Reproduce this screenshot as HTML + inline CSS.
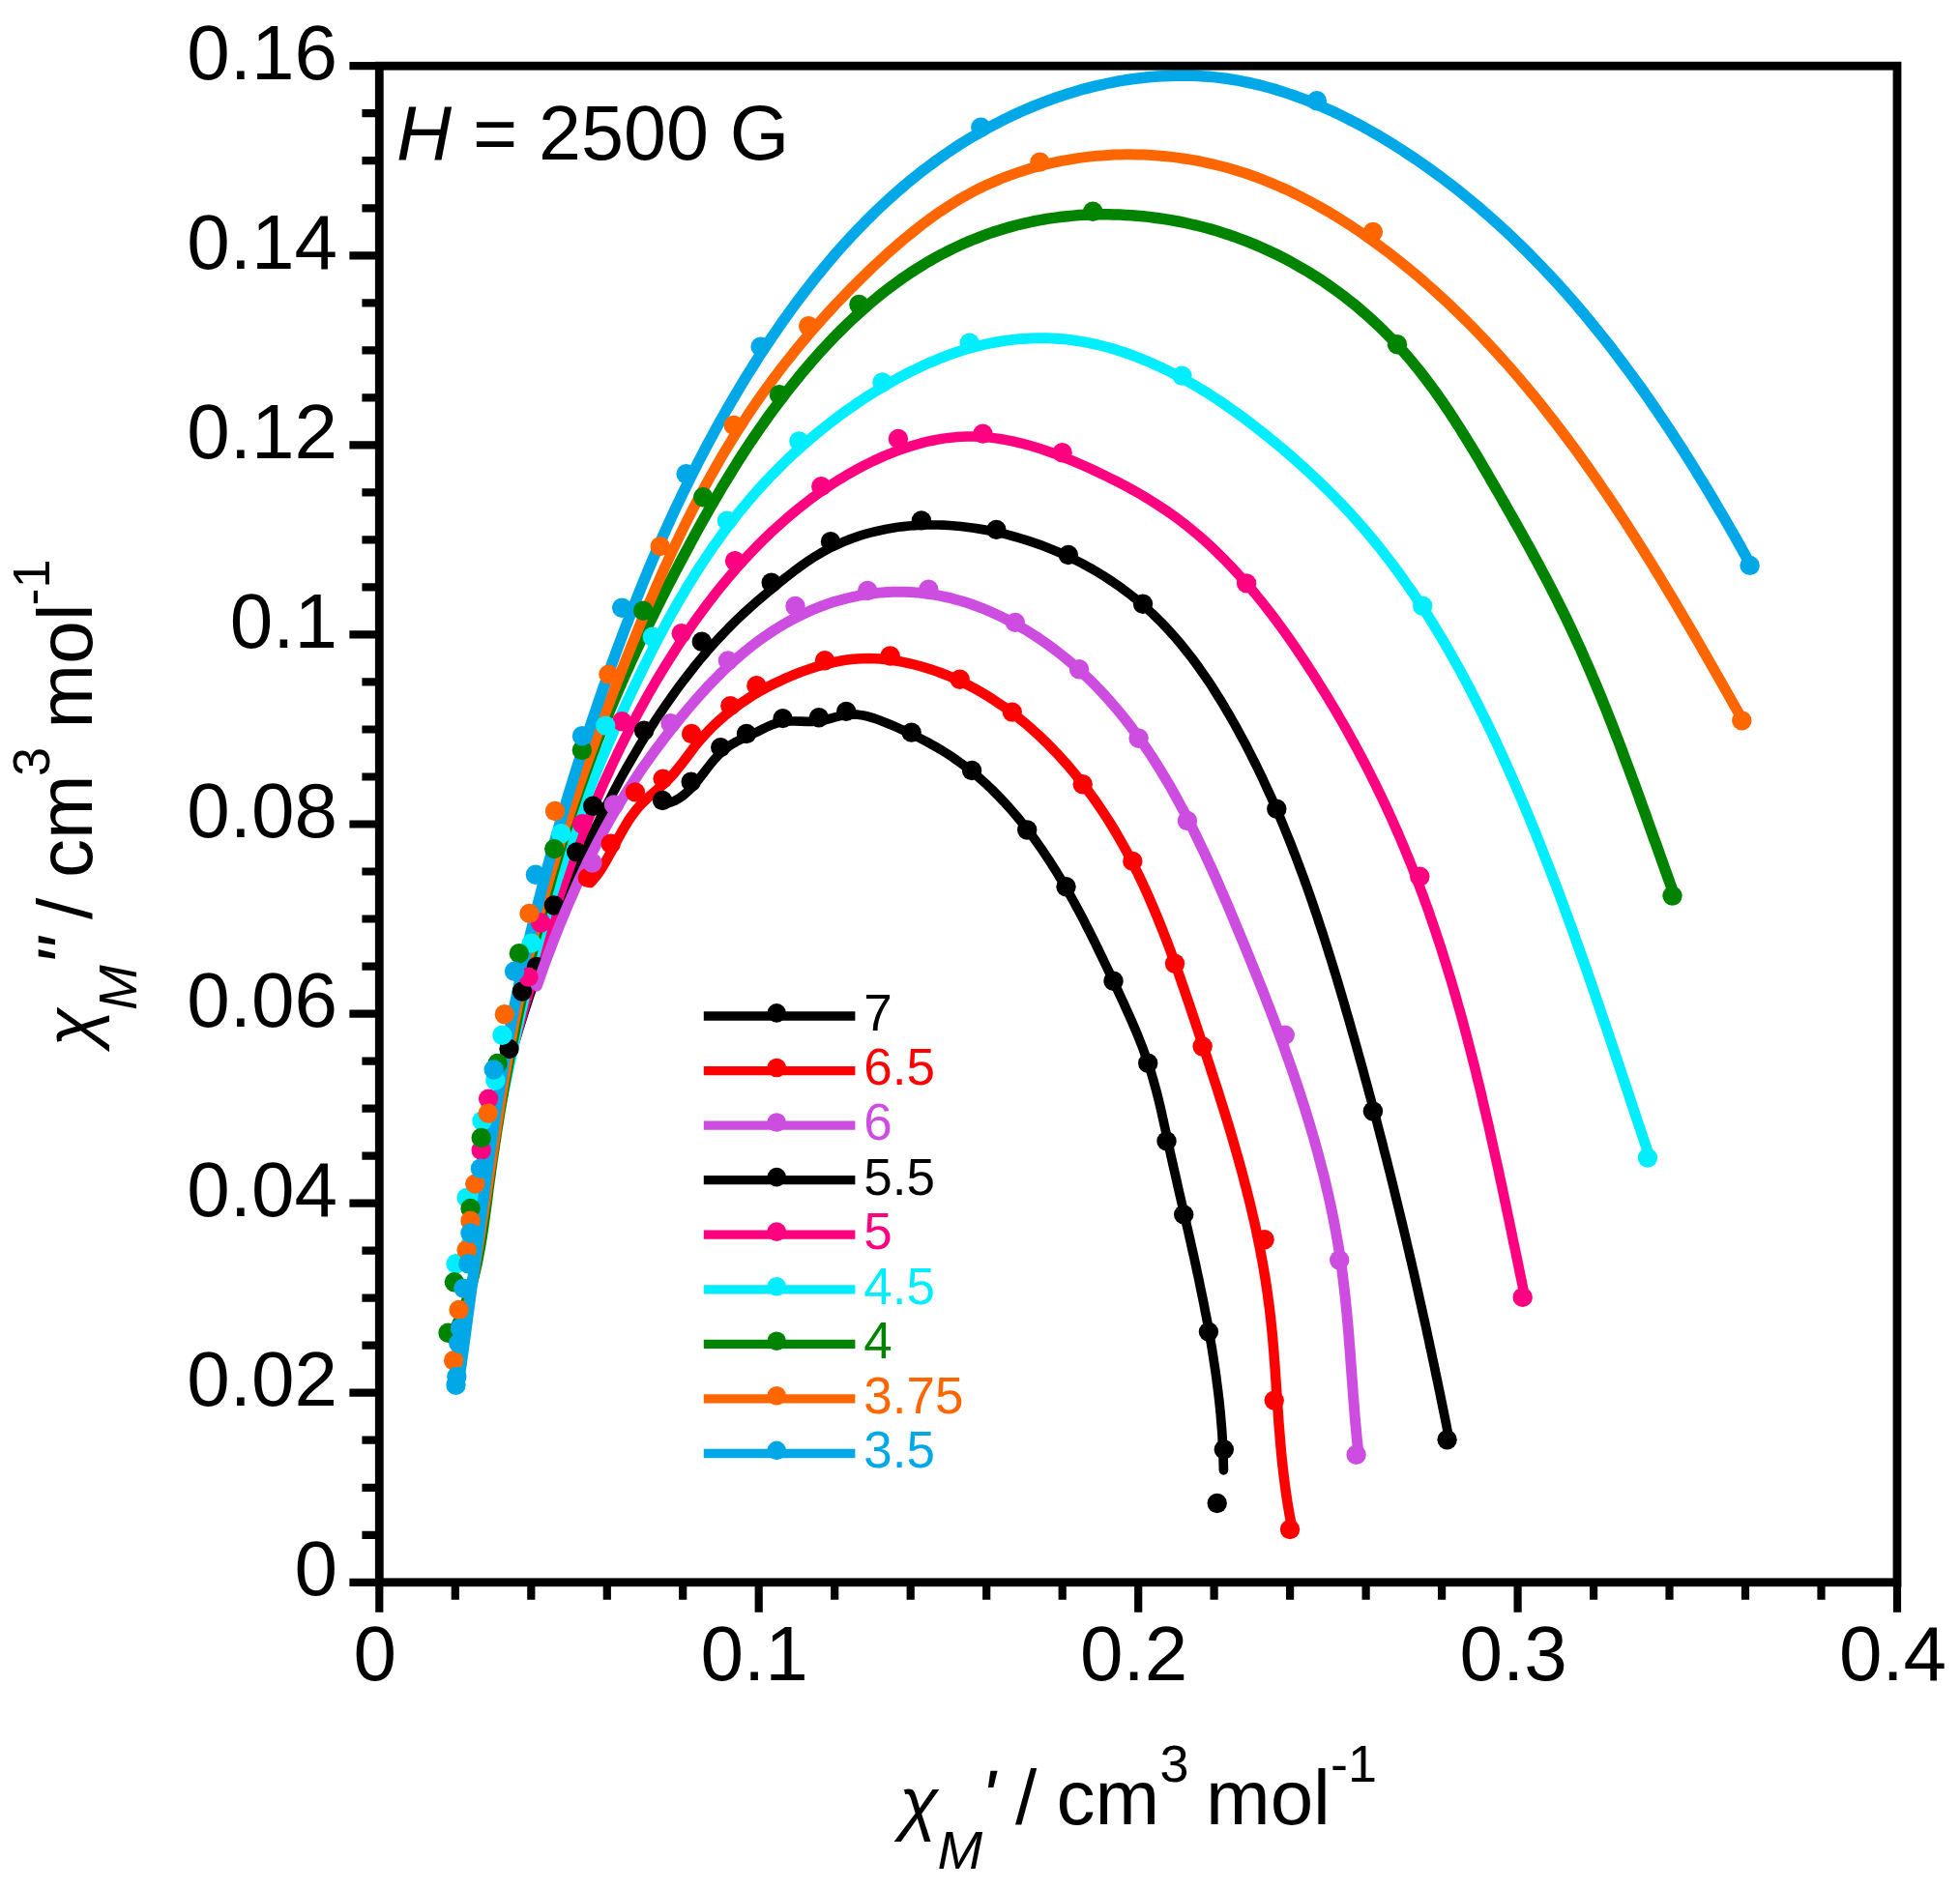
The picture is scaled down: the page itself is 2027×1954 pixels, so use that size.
<!DOCTYPE html>
<html lang="en"><head><meta charset="utf-8"><title>Cole-Cole plot, H = 2500 G</title>
<style>html,body{margin:0;padding:0;background:#fff}svg{display:block}text{font-family:"Liberation Sans",Arial,Helvetica,sans-serif;fill:#000}.it{font-style:italic}</style>
</head><body>
<svg width="2027" height="1954" viewBox="0 0 2027 1954">
<rect width="2027" height="1954" fill="#fff"/>
<g fill="none" stroke-linecap="round" stroke-linejoin="round">
<path d="M687.1 831.4L692.7 830.2L698.0 828.2L702.9 825.4L707.5 822.0L711.9 818.2L716.0 814.0L719.8 809.6L723.6 804.9L727.2 800.2L730.9 795.4L734.6 790.6L738.4 786.0L742.5 781.6L746.7 777.5L751.3 773.7L756.2 770.3L761.4 767.3L766.8 764.5L772.3 761.9L777.8 759.4L783.4 756.8L788.8 754.1L794.2 751.5L799.5 749.3L805.0 747.5L810.6 746.5L816.3 746.0L822.2 746.0L828.1 746.2L834.1 746.4L840.1 746.4L846.0 746.0L852.0 745.0L857.9 743.5L863.7 741.9L869.6 740.4L875.4 739.3L881.1 738.9L886.9 739.2L892.6 740.0L898.3 741.3L904.0 743.0L909.6 745.0L915.2 747.2L920.8 749.5L926.4 751.9L931.9 754.4L937.4 756.9L942.9 759.4L948.3 762.0L953.6 764.7L958.9 767.5L964.1 770.4L969.3 773.3L974.4 776.4L979.4 779.5L984.4 782.8L989.3 786.2L994.1 789.6L998.8 793.2L1003.5 796.9L1008.1 800.6L1012.6 804.5L1017.0 808.4L1021.4 812.4L1025.7 816.5L1029.9 820.7L1034.1 825.0L1038.2 829.3L1042.2 833.7L1046.1 838.1L1050.0 842.7L1053.9 847.2L1057.6 851.9L1061.3 856.5L1064.9 861.3L1068.5 866.0L1072.0 870.9L1075.4 875.7L1078.8 880.6L1082.1 885.6L1085.4 890.5L1088.6 895.6L1091.8 900.6L1094.9 905.7L1098.0 910.8L1101.0 915.9L1104.0 921.1L1106.9 926.3L1109.8 931.5L1112.7 936.8L1115.5 942.0L1118.3 947.3L1121.1 952.6L1123.8 958.0L1126.5 963.3L1129.2 968.7L1131.9 974.0L1134.5 979.4L1137.1 984.8L1139.7 990.2L1142.3 995.6L1144.9 1001.0L1147.5 1006.4L1150.0 1011.8L1152.5 1017.3L1155.1 1022.7L1157.6 1028.1L1160.1 1033.5L1162.6 1038.9L1165.1 1044.4L1167.5 1049.8L1169.9 1055.2L1172.3 1060.7L1174.6 1066.2L1176.9 1071.7L1179.1 1077.2L1181.3 1082.7L1183.3 1088.3L1185.3 1093.8L1187.3 1099.4L1189.1 1105.1L1190.9 1110.7L1192.5 1116.4L1194.1 1122.1L1195.7 1127.9L1197.2 1133.7L1198.6 1139.4L1200.0 1145.2L1201.3 1151.0L1202.6 1156.9L1203.9 1162.7L1205.2 1168.5L1206.4 1174.4L1207.7 1180.2L1209.0 1186.1L1210.2 1191.9L1211.5 1197.8L1212.8 1203.6L1214.1 1209.4L1215.5 1215.3L1216.8 1221.1L1218.1 1227.0L1219.4 1232.8L1220.8 1238.6L1222.1 1244.5L1223.4 1250.3L1224.8 1256.1L1226.1 1261.9L1227.4 1267.8L1228.8 1273.6L1230.1 1279.4L1231.4 1285.3L1232.7 1291.1L1234.0 1296.9L1235.3 1302.8L1236.6 1308.6L1237.8 1314.4L1239.1 1320.3L1240.3 1326.1L1241.5 1332.0L1242.7 1337.8L1243.9 1343.6L1245.1 1349.5L1246.2 1355.3L1247.4 1361.2L1248.5 1367.0L1249.5 1372.9L1250.6 1378.8L1251.6 1384.6L1252.6 1390.5L1253.6 1396.4L1254.5 1402.2L1255.4 1408.1L1256.3 1414.0L1257.2 1419.9L1258.0 1425.8L1258.7 1431.7L1259.5 1437.6L1260.2 1443.5L1260.9 1449.4L1261.5 1455.3L1262.1 1461.2L1262.6 1467.1L1263.1 1473.1L1263.6 1479.0L1264.0 1485.0L1264.3 1490.9L1264.6 1496.9L1264.9 1502.8L1265.1 1508.8L1265.3 1514.8L1265.4 1520.8" stroke="#000000" stroke-width="9.7"/>
<path d="M610.5 913.2L614.0 909.3L617.4 905.1L620.6 900.6L623.6 895.9L626.6 890.9L629.4 885.8L632.3 880.6L635.1 875.3L637.9 869.9L640.8 864.5L643.8 859.2L646.8 854.0L650.0 848.8L653.4 843.8L656.9 839.1L660.7 834.5L664.8 830.2L669.0 826.2L673.4 822.2L677.8 818.4L682.3 814.5L686.6 810.6L690.9 806.5L695.0 802.3L698.9 797.8L702.6 793.1L706.3 788.4L709.9 783.6L713.5 778.8L717.1 774.0L720.9 769.3L724.7 764.7L728.7 760.3L732.7 756.0L736.9 751.7L741.2 747.7L745.6 743.7L750.1 739.8L754.7 736.1L759.4 732.5L764.1 729.0L769.0 725.6L773.9 722.3L779.0 719.1L784.1 716.0L789.3 713.1L794.5 710.2L799.9 707.5L805.3 704.9L810.7 702.4L816.3 700.0L821.8 697.6L827.5 695.4L833.2 693.4L838.9 691.4L844.7 689.6L850.6 687.9L856.4 686.3L862.3 685.0L868.3 683.8L874.2 682.8L880.2 682.0L886.2 681.5L892.2 681.2L898.2 681.1L904.2 681.2L910.2 681.5L916.1 682.1L922.1 682.8L928.0 683.7L933.9 684.8L939.8 686.1L945.7 687.5L951.4 689.0L957.2 690.7L962.9 692.5L968.5 694.4L974.1 696.5L979.6 698.7L985.1 701.0L990.5 703.4L995.9 706.0L1001.2 708.6L1006.4 711.4L1011.6 714.2L1016.8 717.2L1021.8 720.3L1026.9 723.5L1031.8 726.8L1036.8 730.1L1041.6 733.6L1046.4 737.2L1051.2 740.8L1055.8 744.6L1060.5 748.4L1065.0 752.3L1069.5 756.3L1074.0 760.3L1078.3 764.5L1082.7 768.7L1086.9 773.0L1091.1 777.3L1095.3 781.7L1099.3 786.2L1103.4 790.7L1107.3 795.3L1111.2 800.0L1115.0 804.7L1118.8 809.4L1122.5 814.2L1126.1 819.1L1129.7 824.0L1133.2 828.9L1136.6 833.9L1140.0 838.9L1143.3 843.9L1146.6 849.0L1149.8 854.1L1152.9 859.3L1155.9 864.4L1158.9 869.6L1161.8 874.8L1164.7 880.1L1167.5 885.3L1170.3 890.6L1173.0 896.0L1175.6 901.3L1178.3 906.7L1180.8 912.0L1183.3 917.4L1185.8 922.9L1188.2 928.3L1190.6 933.8L1192.9 939.2L1195.2 944.7L1197.5 950.3L1199.7 955.8L1201.9 961.3L1204.1 966.9L1206.3 972.5L1208.4 978.0L1210.5 983.6L1212.5 989.3L1214.6 994.9L1216.6 1000.5L1218.6 1006.1L1220.6 1011.8L1222.5 1017.5L1224.5 1023.1L1226.4 1028.8L1228.4 1034.5L1230.3 1040.1L1232.2 1045.8L1234.1 1051.5L1236.0 1057.2L1237.9 1062.9L1239.8 1068.6L1241.7 1074.3L1243.6 1080.0L1245.5 1085.7L1247.4 1091.4L1249.3 1097.1L1251.2 1102.8L1253.0 1108.6L1254.9 1114.3L1256.7 1120.0L1258.6 1125.7L1260.4 1131.4L1262.2 1137.2L1264.0 1142.9L1265.8 1148.6L1267.6 1154.4L1269.3 1160.1L1271.1 1165.9L1272.8 1171.6L1274.5 1177.4L1276.2 1183.2L1277.8 1188.9L1279.5 1194.7L1281.1 1200.5L1282.7 1206.3L1284.3 1212.0L1285.8 1217.8L1287.3 1223.6L1288.9 1229.4L1290.3 1235.2L1291.8 1241.0L1293.2 1246.9L1294.6 1252.7L1295.9 1258.5L1297.3 1264.3L1298.6 1270.2L1299.8 1276.0L1301.0 1281.9L1302.2 1287.7L1303.4 1293.6L1304.5 1299.5L1305.6 1305.4L1306.6 1311.2L1307.6 1317.1L1308.6 1323.0L1309.5 1328.9L1310.4 1334.8L1311.2 1340.8L1312.0 1346.7L1312.8 1352.6L1313.5 1358.6L1314.2 1364.5L1314.8 1370.5L1315.4 1376.4L1316.0 1382.4L1316.5 1388.4L1317.0 1394.3L1317.5 1400.3L1317.9 1406.3L1318.4 1412.3L1318.8 1418.3L1319.2 1424.3L1319.6 1430.2L1320.0 1436.2L1320.4 1442.2L1320.9 1448.2L1321.3 1454.2L1321.7 1460.2L1322.1 1466.2L1322.5 1472.2L1323.0 1478.2L1323.5 1484.2L1324.0 1490.2L1324.5 1496.2L1325.0 1502.1L1325.6 1508.1L1326.2 1514.1L1326.9 1520.0L1327.6 1526.0L1328.3 1531.9L1329.1 1537.9L1329.9 1543.8L1330.8 1549.8L1331.7 1555.7L1332.7 1561.6L1333.7 1567.5L1334.9 1573.4L1336.0 1579.3L1337.3 1585.2" stroke="#ff0000" stroke-width="10.5"/>
<path d="M529.5 1088.0L531.2 1082.4L532.9 1076.7L534.7 1071.0L536.4 1065.3L538.2 1059.7L540.0 1054.0L541.8 1048.3L543.6 1042.6L545.5 1036.9L547.3 1031.3L549.2 1025.6L551.1 1019.9L553.0 1014.3L554.9 1008.6L556.9 1002.9L558.8 997.3L560.8 991.6L562.8 986.0L564.8 980.3L566.8 974.7L568.9 969.1L571.0 963.5L573.1 957.8L575.2 952.2L577.3 946.6L579.5 941.1L581.7 935.5L583.9 929.9L586.1 924.3L588.4 918.8L590.7 913.2L593.0 907.7L595.3 902.2L597.6 896.7L600.0 891.2L602.4 885.7L604.9 880.2L607.3 874.8L609.8 869.4L612.3 863.9L614.9 858.5L617.4 853.1L620.1 847.7L622.7 842.4L625.3 837.0L628.0 831.7L630.8 826.4L633.5 821.1L636.3 815.8L639.1 810.5L641.9 805.3L644.8 800.0L647.7 794.8L650.7 789.7L653.7 784.5L656.7 779.3L659.7 774.2L662.8 769.1L665.9 764.0L669.1 759.0L672.3 753.9L675.5 748.9L678.7 743.9L682.0 739.0L685.4 734.0L688.7 729.1L692.2 724.2L695.6 719.4L699.1 714.5L702.6 709.7L706.2 704.9L709.8 700.2L713.5 695.5L717.2 690.8L720.9 686.1L724.7 681.5L728.5 677.0L732.4 672.4L736.3 668.0L740.3 663.5L744.4 659.1L748.5 654.8L752.6 650.5L756.8 646.3L761.0 642.1L765.3 638.0L769.7 633.9L774.1 629.9L778.6 625.9L783.1 621.9L787.7 618.0L792.3 614.1L796.9 610.3L801.6 606.4L806.3 602.6L811.0 598.7L815.8 595.0L820.6 591.2L825.5 587.6L830.4 584.0L835.4 580.6L840.4 577.2L845.5 574.1L850.7 571.0L855.9 568.2L861.2 565.5L866.6 563.0L872.0 560.6L877.4 558.4L882.9 556.3L888.5 554.4L894.1 552.7L899.7 551.1L905.4 549.7L911.1 548.4L916.9 547.2L922.7 546.2L928.5 545.3L934.4 544.6L940.2 544.0L946.1 543.6L952.0 543.2L958.0 543.0L963.9 543.0L969.9 543.0L975.8 543.2L981.8 543.5L987.8 544.0L993.7 544.5L999.7 545.2L1005.6 546.0L1011.6 546.9L1017.5 547.9L1023.5 549.0L1029.4 550.2L1035.3 551.5L1041.1 552.9L1047.0 554.5L1052.8 556.1L1058.6 557.8L1064.3 559.7L1070.1 561.6L1075.8 563.6L1081.4 565.8L1087.0 568.0L1092.6 570.3L1098.2 572.7L1103.7 575.2L1109.1 577.8L1114.5 580.5L1119.9 583.3L1125.2 586.2L1130.4 589.1L1135.6 592.2L1140.7 595.3L1145.8 598.6L1150.8 601.9L1155.7 605.3L1160.6 608.8L1165.4 612.4L1170.1 616.0L1174.8 619.8L1179.4 623.6L1183.9 627.5L1188.3 631.5L1192.6 635.5L1196.9 639.7L1201.1 643.9L1205.2 648.2L1209.2 652.5L1213.2 656.9L1217.1 661.4L1221.0 666.0L1224.7 670.6L1228.4 675.2L1232.1 679.9L1235.6 684.7L1239.2 689.5L1242.6 694.4L1246.0 699.3L1249.4 704.2L1252.7 709.2L1255.9 714.2L1259.1 719.3L1262.3 724.4L1265.4 729.5L1268.4 734.7L1271.5 739.8L1274.4 745.0L1277.4 750.2L1280.3 755.5L1283.1 760.7L1286.0 766.0L1288.8 771.3L1291.5 776.6L1294.2 781.9L1296.9 787.2L1299.6 792.6L1302.2 798.0L1304.8 803.3L1307.3 808.7L1309.8 814.2L1312.3 819.6L1314.8 825.0L1317.2 830.5L1319.6 836.0L1322.0 841.4L1324.3 846.9L1326.6 852.5L1328.9 858.0L1331.1 863.5L1333.4 869.1L1335.6 874.6L1337.7 880.2L1339.9 885.8L1342.0 891.4L1344.1 897.0L1346.2 902.6L1348.3 908.2L1350.3 913.8L1352.3 919.5L1354.3 925.1L1356.3 930.8L1358.2 936.4L1360.1 942.1L1362.1 947.8L1363.9 953.5L1365.8 959.2L1367.7 964.9L1369.5 970.6L1371.3 976.3L1373.1 982.0L1374.9 987.7L1376.7 993.4L1378.5 999.2L1380.2 1004.9L1382.0 1010.6L1383.7 1016.4L1385.4 1022.1L1387.1 1027.9L1388.8 1033.6L1390.5 1039.4L1392.1 1045.1L1393.8 1050.9L1395.5 1056.6L1397.1 1062.4L1398.7 1068.1L1400.4 1073.9L1402.0 1079.7L1403.6 1085.4L1405.2 1091.2L1406.8 1096.9L1408.4 1102.7L1410.0 1108.5L1411.5 1114.2L1413.1 1120.0L1414.7 1125.8L1416.2 1131.5L1417.8 1137.3L1419.3 1143.1L1420.8 1148.8L1422.4 1154.6L1423.9 1160.4L1425.4 1166.2L1426.9 1171.9L1428.4 1177.7L1429.9 1183.5L1431.3 1189.3L1432.8 1195.0L1434.3 1200.8L1435.7 1206.6L1437.2 1212.4L1438.6 1218.2L1440.1 1224.0L1441.5 1229.8L1442.9 1235.6L1444.3 1241.3L1445.7 1247.1L1447.1 1252.9L1448.5 1258.7L1449.9 1264.5L1451.3 1270.3L1452.7 1276.1L1454.1 1282.0L1455.4 1287.8L1456.8 1293.6L1458.1 1299.4L1459.5 1305.2L1460.8 1311.0L1462.2 1316.8L1463.5 1322.7L1464.8 1328.5L1466.1 1334.3L1467.4 1340.1L1468.7 1346.0L1470.0 1351.8L1471.3 1357.6L1472.6 1363.5L1473.9 1369.3L1475.2 1375.2L1476.4 1381.0L1477.7 1386.8L1478.9 1392.7L1480.2 1398.5L1481.4 1404.4L1482.7 1410.3L1483.9 1416.1L1485.1 1422.0L1486.4 1427.9L1487.6 1433.7L1488.8 1439.6L1490.0 1445.5L1491.2 1451.3L1492.4 1457.2L1493.6 1463.1L1494.8 1469.0L1496.0 1474.9L1497.1 1480.8L1498.3 1486.7L1499.5 1492.6" stroke="#000000" stroke-width="9.7"/>
<path d="M502.2 1193.4L503.6 1187.6L505.1 1181.7L506.6 1175.9L508.1 1170.1L509.6 1164.3L511.1 1158.5L512.5 1152.6L514.0 1146.8L515.5 1141.0L517.0 1135.2L518.6 1129.4L520.1 1123.6L521.6 1117.8L523.1 1112.0L524.7 1106.2L526.2 1100.4L527.8 1094.7L529.3 1088.9L530.9 1083.1L532.5 1077.3L534.0 1071.5L535.6 1065.8L537.2 1060.0L538.9 1054.2L540.5 1048.5L542.1 1042.7L543.8 1037.0L545.4 1031.2L547.1 1025.5L548.8 1019.7L550.5 1014.0L552.2 1008.3L553.9 1002.6L555.7 996.8L557.4 991.1L559.2 985.4L561.0 979.7L562.8 974.0L564.6 968.3L566.5 962.6L568.3 956.9L570.2 951.2L572.1 945.5L574.0 939.8L576.0 934.1L577.9 928.5L579.9 922.8L581.9 917.1L583.9 911.5L585.9 905.8L588.0 900.2L590.0 894.5L592.1 888.9L594.3 883.3L596.4 877.6L598.6 872.0L600.8 866.4L603.0 860.8L605.2 855.3L607.5 849.7L609.8 844.1L612.1 838.6L614.4 833.0L616.8 827.5L619.1 822.0L621.6 816.4L624.0 810.9L626.5 805.5L629.0 800.0L631.5 794.5L634.0 789.1L636.6 783.7L639.2 778.2L641.8 772.8L644.5 767.4L647.2 762.1L649.9 756.7L652.6 751.4L655.4 746.1L658.2 740.8L661.0 735.5L663.9 730.2L666.8 725.0L669.7 719.7L672.7 714.5L675.7 709.3L678.7 704.2L681.8 699.0L684.9 693.9L688.0 688.8L691.2 683.7L694.4 678.6L697.6 673.6L700.8 668.6L704.1 663.6L707.5 658.6L710.8 653.6L714.3 648.7L717.7 643.8L721.2 638.9L724.7 634.1L728.2 629.3L731.8 624.5L735.5 619.8L739.1 615.0L742.8 610.3L746.6 605.7L750.4 601.1L754.2 596.5L758.1 592.0L762.1 587.4L766.0 583.0L770.0 578.6L774.1 574.2L778.2 569.8L782.4 565.5L786.6 561.3L790.8 557.1L795.2 552.9L799.5 548.8L803.9 544.8L808.4 540.8L812.9 536.8L817.4 532.9L822.1 529.1L826.7 525.3L831.4 521.6L836.2 517.9L841.0 514.3L845.9 510.8L850.8 507.3L855.8 503.9L860.8 500.6L865.9 497.3L871.1 494.2L876.3 491.1L881.5 488.1L886.8 485.2L892.1 482.3L897.5 479.6L903.0 476.9L908.5 474.4L914.0 471.9L919.6 469.6L925.2 467.4L930.9 465.2L936.6 463.3L942.3 461.4L948.1 459.7L953.8 458.1L959.6 456.7L965.5 455.5L971.3 454.4L977.1 453.4L983.0 452.7L988.9 452.1L994.7 451.7L1000.6 451.5L1006.4 451.5L1012.3 451.7L1018.2 452.1L1024.0 452.6L1029.8 453.4L1035.7 454.2L1041.5 455.3L1047.3 456.4L1053.1 457.8L1058.9 459.2L1064.7 460.8L1070.5 462.5L1076.2 464.3L1081.9 466.2L1087.7 468.3L1093.4 470.4L1099.0 472.6L1104.7 474.8L1110.3 477.2L1116.0 479.6L1121.6 482.0L1127.1 484.6L1132.7 487.1L1138.2 489.7L1143.7 492.4L1149.1 495.1L1154.6 497.8L1160.0 500.6L1165.3 503.4L1170.6 506.3L1175.9 509.3L1181.1 512.3L1186.3 515.4L1191.4 518.6L1196.5 521.8L1201.5 525.1L1206.5 528.4L1211.3 531.8L1216.2 535.3L1221.0 538.9L1225.7 542.5L1230.3 546.2L1234.9 550.0L1239.5 553.8L1244.0 557.7L1248.4 561.7L1252.8 565.7L1257.1 569.8L1261.3 574.0L1265.6 578.2L1269.7 582.4L1273.8 586.7L1277.9 591.1L1281.9 595.5L1285.9 599.9L1289.8 604.4L1293.7 609.0L1297.6 613.5L1301.4 618.2L1305.1 622.8L1308.8 627.5L1312.5 632.3L1316.2 637.0L1319.8 641.8L1323.3 646.7L1326.9 651.5L1330.4 656.4L1333.8 661.3L1337.3 666.3L1340.7 671.2L1344.1 676.2L1347.4 681.2L1350.7 686.2L1354.0 691.3L1357.3 696.3L1360.5 701.4L1363.7 706.5L1366.9 711.6L1370.1 716.7L1373.2 721.8L1376.3 726.9L1379.4 732.1L1382.5 737.3L1385.5 742.5L1388.5 747.7L1391.5 752.9L1394.4 758.1L1397.3 763.4L1400.2 768.6L1403.1 773.9L1405.9 779.2L1408.7 784.5L1411.5 789.8L1414.2 795.1L1416.9 800.4L1419.6 805.8L1422.3 811.2L1424.9 816.6L1427.5 821.9L1430.1 827.3L1432.7 832.8L1435.2 838.2L1437.7 843.6L1440.2 849.1L1442.6 854.6L1445.0 860.0L1447.4 865.5L1449.7 871.0L1452.1 876.6L1454.3 882.1L1456.6 887.6L1458.8 893.2L1461.1 898.7L1463.2 904.3L1465.4 909.9L1467.5 915.5L1469.6 921.1L1471.7 926.7L1473.7 932.3L1475.8 938.0L1477.8 943.6L1479.7 949.3L1481.7 954.9L1483.6 960.6L1485.5 966.3L1487.4 972.0L1489.3 977.7L1491.1 983.4L1492.9 989.1L1494.7 994.8L1496.5 1000.6L1498.2 1006.3L1500.0 1012.0L1501.7 1017.8L1503.4 1023.5L1505.1 1029.3L1506.7 1035.1L1508.3 1040.9L1510.0 1046.6L1511.6 1052.4L1513.2 1058.2L1514.7 1064.0L1516.3 1069.8L1517.8 1075.6L1519.3 1081.5L1520.8 1087.3L1522.3 1093.1L1523.8 1098.9L1525.3 1104.8L1526.7 1110.6L1528.1 1116.4L1529.6 1122.3L1531.0 1128.1L1532.4 1134.0L1533.7 1139.8L1535.1 1145.7L1536.5 1151.6L1537.8 1157.4L1539.2 1163.3L1540.5 1169.1L1541.8 1175.0L1543.1 1180.9L1544.4 1186.8L1545.7 1192.6L1547.0 1198.5L1548.3 1204.4L1549.6 1210.2L1550.8 1216.1L1552.1 1222.0L1553.4 1227.9L1554.6 1233.7L1555.8 1239.6L1557.1 1245.5L1558.3 1251.4L1559.5 1257.2L1560.8 1263.1L1562.0 1269.0L1563.2 1274.8L1564.4 1280.7L1565.6 1286.6L1566.9 1292.4L1568.1 1298.3L1569.3 1304.1L1570.5 1310.0L1571.7 1315.9L1572.9 1321.7L1574.1 1327.5L1575.3 1333.4L1576.5 1339.2L1577.7 1345.1" stroke="#ff0080" stroke-width="10.5"/>
<path d="M474.5 1310.4L476.4 1304.7L478.3 1299.0L480.1 1293.3L481.9 1287.5L483.6 1281.8L485.4 1276.1L487.0 1270.3L488.7 1264.5L490.3 1258.8L491.9 1253.0L493.5 1247.2L495.0 1241.4L496.5 1235.6L498.0 1229.8L499.5 1224.0L500.9 1218.2L502.3 1212.4L503.7 1206.6L505.1 1200.7L506.5 1194.9L507.8 1189.1L509.2 1183.2L510.5 1177.4L511.8 1171.5L513.1 1165.7L514.4 1159.8L515.6 1154.0L516.9 1148.1L518.2 1142.2L519.4 1136.4L520.7 1130.5L521.9 1124.6L523.2 1118.8L524.4 1112.9L525.7 1107.1L526.9 1101.2L528.2 1095.3L529.4 1089.5L530.7 1083.6L531.9 1077.8L533.2 1071.9L534.5 1066.0L535.8 1060.2L537.1 1054.3L538.4 1048.5L539.8 1042.7L541.1 1036.8L542.5 1031.0L543.9 1025.2L545.3 1019.3L546.7 1013.5L548.1 1007.7L549.6 1001.9L551.1 996.1L552.6 990.3L554.1 984.5L555.7 978.7L557.3 972.9L558.9 967.2L560.5 961.4L562.2 955.6L563.9 949.9L565.6 944.1L567.3 938.4L569.0 932.6L570.8 926.9L572.6 921.2L574.4 915.5L576.2 909.8L578.1 904.1L580.0 898.4L581.9 892.7L583.8 887.0L585.8 881.3L587.7 875.7L589.7 870.0L591.7 864.4L593.8 858.7L595.8 853.1L597.9 847.5L600.0 841.8L602.1 836.2L604.3 830.6L606.4 825.0L608.6 819.4L610.8 813.8L613.0 808.3L615.3 802.7L617.5 797.1L619.8 791.6L622.1 786.0L624.4 780.5L626.8 775.0L629.1 769.5L631.5 763.9L633.9 758.4L636.3 752.9L638.8 747.5L641.2 742.0L643.7 736.5L646.2 731.0L648.7 725.6L651.3 720.2L653.8 714.7L656.4 709.3L659.0 703.9L661.6 698.5L664.2 693.1L666.9 687.7L669.6 682.3L672.3 676.9L675.0 671.6L677.7 666.3L680.5 660.9L683.3 655.6L686.1 650.4L689.0 645.1L691.8 639.8L694.7 634.6L697.7 629.4L700.6 624.2L703.6 619.0L706.7 613.9L709.7 608.7L712.8 603.6L716.0 598.5L719.1 593.5L722.3 588.5L725.6 583.5L728.9 578.5L732.2 573.5L735.5 568.6L738.9 563.7L742.4 558.9L745.9 554.0L749.4 549.2L752.9 544.5L756.6 539.7L760.2 535.0L763.9 530.4L767.7 525.7L771.5 521.2L775.3 516.6L779.2 512.1L783.2 507.6L787.2 503.2L791.2 498.8L795.3 494.4L799.5 490.1L803.7 485.8L807.9 481.6L812.2 477.4L816.5 473.2L820.9 469.1L825.4 465.1L829.9 461.1L834.4 457.1L839.0 453.2L843.6 449.3L848.3 445.5L853.0 441.7L857.7 438.0L862.5 434.3L867.4 430.6L872.3 427.1L877.2 423.5L882.2 420.1L887.2 416.6L892.2 413.2L897.3 409.9L902.5 406.6L907.6 403.4L912.9 400.3L918.1 397.2L923.4 394.2L928.7 391.2L934.1 388.3L939.5 385.5L944.9 382.8L950.4 380.2L955.9 377.6L961.4 375.1L967.0 372.8L972.5 370.5L978.2 368.3L983.8 366.3L989.5 364.3L995.1 362.5L1000.9 360.8L1006.6 359.2L1012.4 357.7L1018.1 356.3L1023.9 355.1L1029.8 354.0L1035.6 353.0L1041.4 352.1L1047.3 351.4L1053.2 350.8L1059.0 350.4L1064.9 350.0L1070.8 349.8L1076.6 349.8L1082.5 349.8L1088.4 350.0L1094.2 350.4L1100.1 350.8L1105.9 351.4L1111.7 352.2L1117.6 353.1L1123.3 354.1L1129.1 355.3L1134.9 356.5L1140.6 358.0L1146.3 359.5L1152.0 361.1L1157.7 362.9L1163.4 364.8L1169.0 366.8L1174.6 368.9L1180.2 371.1L1185.7 373.3L1191.2 375.7L1196.7 378.2L1202.2 380.8L1207.6 383.4L1213.0 386.1L1218.3 388.9L1223.7 391.8L1228.9 394.8L1234.2 397.8L1239.4 400.9L1244.6 404.0L1249.7 407.2L1254.8 410.5L1259.9 413.9L1264.9 417.2L1270.0 420.7L1274.9 424.2L1279.9 427.7L1284.8 431.3L1289.7 434.9L1294.5 438.6L1299.3 442.3L1304.1 446.1L1308.9 449.9L1313.6 453.7L1318.3 457.5L1322.9 461.4L1327.6 465.3L1332.2 469.2L1336.7 473.2L1341.2 477.2L1345.7 481.2L1350.2 485.2L1354.6 489.3L1359.0 493.4L1363.4 497.5L1367.7 501.7L1372.0 505.9L1376.3 510.1L1380.5 514.3L1384.6 518.6L1388.8 522.9L1392.9 527.3L1396.9 531.6L1400.9 536.1L1404.9 540.5L1408.8 545.0L1412.7 549.5L1416.5 554.1L1420.3 558.6L1424.1 563.3L1427.8 567.9L1431.5 572.6L1435.2 577.3L1438.8 582.0L1442.3 586.8L1445.9 591.6L1449.4 596.4L1452.8 601.3L1456.2 606.1L1459.6 611.0L1463.0 616.0L1466.3 620.9L1469.6 625.9L1472.8 630.9L1476.1 635.9L1479.3 641.0L1482.4 646.0L1485.5 651.1L1488.6 656.3L1491.7 661.4L1494.7 666.6L1497.7 671.7L1500.7 676.9L1503.6 682.1L1506.6 687.4L1509.5 692.6L1512.3 697.9L1515.2 703.2L1518.0 708.5L1520.7 713.8L1523.5 719.1L1526.2 724.5L1528.9 729.8L1531.6 735.2L1534.3 740.6L1536.9 746.0L1539.6 751.4L1542.1 756.8L1544.7 762.3L1547.3 767.7L1549.8 773.2L1552.3 778.6L1554.8 784.1L1557.3 789.6L1559.7 795.1L1562.2 800.6L1564.6 806.1L1567.0 811.6L1569.4 817.1L1571.7 822.6L1574.1 828.1L1576.4 833.7L1578.8 839.2L1581.1 844.7L1583.3 850.3L1585.6 855.8L1587.9 861.4L1590.1 867.0L1592.3 872.5L1594.5 878.1L1596.7 883.7L1598.9 889.3L1601.1 894.9L1603.3 900.5L1605.4 906.1L1607.5 911.7L1609.7 917.3L1611.8 922.9L1613.9 928.5L1616.0 934.2L1618.0 939.8L1620.1 945.4L1622.2 951.1L1624.2 956.7L1626.3 962.3L1628.3 968.0L1630.3 973.6L1632.3 979.3L1634.3 984.9L1636.3 990.6L1638.3 996.3L1640.3 1001.9L1642.3 1007.6L1644.2 1013.2L1646.2 1018.9L1648.1 1024.6L1650.1 1030.3L1652.0 1035.9L1654.0 1041.6L1655.9 1047.3L1657.8 1053.0L1659.7 1058.6L1661.7 1064.3L1663.6 1070.0L1665.5 1075.7L1667.4 1081.4L1669.3 1087.0L1671.2 1092.7L1673.1 1098.4L1675.0 1104.1L1676.9 1109.8L1678.8 1115.5L1680.7 1121.2L1682.6 1126.8L1684.5 1132.5L1686.4 1138.2L1688.2 1143.9L1690.1 1149.6L1692.0 1155.3L1693.9 1160.9L1695.8 1166.6L1697.7 1172.3L1699.6 1178.0L1701.5 1183.6L1703.4 1189.3L1705.3 1195.0L1707.2 1200.7" stroke="#00eeff" stroke-width="11.0"/>
<path d="M466.6 1381.9L469.4 1376.5L472.2 1371.0L474.7 1365.5L477.1 1360.0L479.3 1354.4L481.4 1348.8L483.4 1343.2L485.2 1337.5L487.0 1331.8L488.6 1326.1L490.1 1320.3L491.4 1314.5L492.8 1308.7L494.0 1302.9L495.1 1297.0L496.2 1291.1L497.2 1285.2L498.2 1279.3L499.1 1273.4L500.0 1267.5L500.8 1261.6L501.6 1255.6L502.4 1249.7L503.2 1243.7L504.0 1237.8L504.7 1231.8L505.5 1225.9L506.3 1220.0L507.2 1214.0L508.0 1208.1L508.8 1202.2L509.7 1196.2L510.6 1190.3L511.5 1184.4L512.4 1178.5L513.3 1172.5L514.2 1166.6L515.2 1160.7L516.1 1154.8L517.1 1148.9L518.1 1143.0L519.1 1137.1L520.1 1131.2L521.1 1125.3L522.2 1119.4L523.3 1113.5L524.3 1107.6L525.4 1101.8L526.5 1095.9L527.6 1090.0L528.8 1084.1L529.9 1078.3L531.1 1072.4L532.3 1066.5L533.5 1060.7L534.7 1054.8L535.9 1048.9L537.1 1043.1L538.4 1037.2L539.6 1031.4L540.9 1025.5L542.2 1019.7L543.5 1013.9L544.9 1008.0L546.2 1002.2L547.6 996.4L549.0 990.5L550.4 984.7L551.8 978.9L553.2 973.1L554.6 967.3L556.1 961.5L557.6 955.7L559.1 949.9L560.6 944.1L562.1 938.3L563.7 932.5L565.3 926.7L566.9 921.0L568.5 915.2L570.1 909.4L571.7 903.7L573.4 897.9L575.1 892.2L576.8 886.5L578.5 880.7L580.3 875.0L582.0 869.3L583.8 863.6L585.6 857.9L587.4 852.2L589.3 846.5L591.2 840.8L593.1 835.1L595.0 829.4L596.9 823.8L598.8 818.1L600.8 812.5L602.8 806.8L604.8 801.2L606.9 795.6L608.9 789.9L611.0 784.3L613.1 778.7L615.3 773.1L617.4 767.5L619.6 762.0L621.8 756.4L624.0 750.8L626.3 745.3L628.6 739.7L630.9 734.2L633.2 728.7L635.5 723.2L637.9 717.7L640.3 712.2L642.7 706.7L645.1 701.2L647.6 695.7L650.0 690.3L652.5 684.8L655.0 679.3L657.5 673.9L660.1 668.5L662.6 663.1L665.2 657.6L667.8 652.2L670.4 646.9L673.0 641.5L675.7 636.1L678.3 630.7L681.0 625.4L683.7 620.0L686.4 614.7L689.1 609.3L691.8 604.0L694.6 598.7L697.3 593.4L700.1 588.1L702.9 582.8L705.7 577.5L708.5 572.2L711.3 567.0L714.1 561.7L717.0 556.5L719.8 551.2L722.7 546.0L725.6 540.8L728.5 535.6L731.5 530.4L734.4 525.2L737.4 520.1L740.4 514.9L743.4 509.8L746.4 504.6L749.5 499.5L752.6 494.4L755.7 489.4L758.9 484.3L762.0 479.2L765.2 474.2L768.4 469.2L771.7 464.2L775.0 459.2L778.3 454.3L781.7 449.3L785.0 444.4L788.5 439.5L791.9 434.6L795.4 429.7L798.9 424.9L802.5 420.1L806.1 415.3L809.7 410.5L813.4 405.7L817.1 401.0L820.9 396.3L824.7 391.6L828.5 386.9L832.4 382.3L836.3 377.7L840.3 373.1L844.3 368.5L848.3 364.0L852.4 359.6L856.6 355.1L860.7 350.8L864.9 346.4L869.2 342.1L873.5 337.9L877.9 333.7L882.2 329.5L886.7 325.4L891.2 321.4L895.7 317.4L900.2 313.5L904.8 309.6L909.5 305.8L914.2 302.1L918.9 298.4L923.7 294.8L928.5 291.3L933.4 287.8L938.3 284.5L943.3 281.1L948.3 277.9L953.3 274.8L958.4 271.7L963.5 268.7L968.7 265.8L973.9 263.0L979.2 260.3L984.5 257.6L989.9 255.1L995.2 252.6L1000.7 250.2L1006.1 248.0L1011.6 245.8L1017.2 243.7L1022.7 241.6L1028.3 239.7L1034.0 237.9L1039.6 236.2L1045.3 234.6L1051.1 233.0L1056.9 231.6L1062.6 230.3L1068.5 229.0L1074.3 227.9L1080.2 226.8L1086.1 225.9L1092.0 225.1L1098.0 224.3L1103.9 223.7L1109.9 223.1L1115.9 222.6L1121.9 222.3L1127.9 222.0L1133.9 221.8L1140.0 221.8L1146.0 221.8L1152.0 221.9L1158.1 222.1L1164.1 222.4L1170.1 222.7L1176.2 223.2L1182.2 223.8L1188.2 224.4L1194.2 225.2L1200.2 226.0L1206.2 226.9L1212.1 227.9L1218.1 229.0L1224.0 230.2L1229.9 231.5L1235.8 232.8L1241.7 234.3L1247.5 235.8L1253.3 237.4L1259.1 239.1L1264.8 240.9L1270.5 242.8L1276.2 244.7L1281.9 246.8L1287.5 248.9L1293.0 251.1L1298.6 253.4L1304.0 255.7L1309.5 258.2L1314.9 260.7L1320.3 263.3L1325.6 265.9L1330.9 268.7L1336.1 271.5L1341.3 274.4L1346.5 277.4L1351.6 280.4L1356.7 283.5L1361.7 286.7L1366.7 289.9L1371.6 293.3L1376.5 296.7L1381.3 300.1L1386.1 303.6L1390.9 307.2L1395.6 310.9L1400.2 314.6L1404.8 318.4L1409.3 322.3L1413.8 326.2L1418.3 330.2L1422.6 334.2L1427.0 338.3L1431.2 342.4L1435.4 346.7L1439.6 350.9L1443.7 355.3L1447.7 359.7L1451.7 364.1L1455.7 368.6L1459.5 373.2L1463.3 377.8L1467.1 382.4L1470.8 387.1L1474.5 391.9L1478.1 396.7L1481.7 401.5L1485.2 406.4L1488.6 411.3L1492.1 416.2L1495.5 421.2L1498.8 426.2L1502.2 431.2L1505.4 436.3L1508.7 441.3L1511.9 446.5L1515.1 451.6L1518.3 456.7L1521.4 461.9L1524.6 467.0L1527.7 472.2L1530.8 477.4L1533.8 482.6L1536.9 487.8L1539.9 493.0L1542.9 498.3L1546.0 503.5L1549.0 508.7L1552.0 513.9L1555.0 519.1L1557.9 524.3L1560.9 529.5L1563.9 534.7L1566.8 539.9L1569.8 545.1L1572.7 550.3L1575.6 555.5L1578.5 560.7L1581.4 565.9L1584.2 571.1L1587.1 576.4L1589.9 581.6L1592.7 586.8L1595.5 592.1L1598.3 597.3L1601.1 602.6L1603.8 607.9L1606.5 613.2L1609.2 618.5L1611.9 623.8L1614.5 629.1L1617.2 634.4L1619.8 639.8L1622.4 645.2L1624.9 650.5L1627.4 655.9L1629.9 661.4L1632.4 666.8L1634.9 672.2L1637.3 677.7L1639.7 683.2L1642.1 688.6L1644.5 694.1L1646.8 699.6L1649.2 705.2L1651.5 710.7L1653.8 716.2L1656.1 721.8L1658.3 727.3L1660.6 732.9L1662.8 738.5L1665.0 744.1L1667.2 749.7L1669.4 755.3L1671.5 760.9L1673.7 766.5L1675.8 772.1L1677.9 777.7L1680.0 783.4L1682.1 789.0L1684.2 794.6L1686.3 800.3L1688.4 805.9L1690.5 811.5L1692.5 817.2L1694.6 822.8L1696.6 828.5L1698.6 834.1L1700.7 839.8L1702.7 845.4L1704.7 851.1L1706.7 856.7L1708.7 862.3L1710.7 868.0L1712.8 873.6L1714.8 879.2L1716.8 884.9L1718.8 890.5L1720.8 896.1L1722.8 901.7L1724.8 907.3L1726.8 912.9L1728.8 918.5L1730.8 924.1L1732.8 929.6" stroke="#008400" stroke-width="11.5"/>
<path d="M472.3 1410.5L473.5 1404.6L474.8 1398.8L476.0 1392.9L477.2 1387.1L478.4 1381.2L479.5 1375.3L480.6 1369.5L481.8 1363.6L482.9 1357.7L484.0 1351.8L485.0 1345.9L486.1 1340.0L487.1 1334.1L488.1 1328.2L489.2 1322.3L490.2 1316.4L491.2 1310.5L492.1 1304.6L493.1 1298.7L494.1 1292.7L495.0 1286.8L496.0 1280.9L496.9 1275.0L497.8 1269.0L498.7 1263.1L499.7 1257.2L500.6 1251.2L501.5 1245.3L502.4 1239.4L503.3 1233.4L504.2 1227.5L505.1 1221.5L506.0 1215.6L506.9 1209.7L507.8 1203.7L508.7 1197.8L509.6 1191.8L510.5 1185.9L511.4 1180.0L512.3 1174.0L513.2 1168.1L514.1 1162.1L515.1 1156.2L516.0 1150.3L516.9 1144.3L517.9 1138.4L518.8 1132.5L519.8 1126.6L520.8 1120.6L521.8 1114.7L522.8 1108.8L523.8 1102.9L524.8 1097.0L525.8 1091.1L526.9 1085.2L527.9 1079.2L529.0 1073.4L530.1 1067.5L531.2 1061.6L532.3 1055.7L533.5 1049.8L534.7 1043.9L535.8 1038.1L537.0 1032.2L538.3 1026.3L539.5 1020.5L540.8 1014.6L542.1 1008.8L543.4 1002.9L544.7 997.1L546.1 991.3L547.5 985.5L548.9 979.6L550.3 973.8L551.8 968.0L553.3 962.2L554.8 956.4L556.3 950.7L557.8 944.9L559.4 939.1L561.0 933.3L562.6 927.6L564.2 921.8L565.9 916.1L567.5 910.3L569.2 904.6L570.9 898.8L572.7 893.1L574.4 887.4L576.2 881.6L577.9 875.9L579.7 870.2L581.6 864.5L583.4 858.8L585.2 853.1L587.1 847.4L589.0 841.7L590.9 836.0L592.8 830.3L594.7 824.7L596.7 819.0L598.6 813.3L600.6 807.6L602.6 802.0L604.5 796.3L606.6 790.7L608.6 785.0L610.6 779.4L612.7 773.7L614.7 768.1L616.8 762.4L618.9 756.8L620.9 751.2L623.0 745.5L625.1 739.9L627.3 734.3L629.4 728.7L631.5 723.0L633.7 717.4L635.8 711.8L638.0 706.2L640.2 700.6L642.3 695.0L644.5 689.4L646.7 683.8L648.9 678.2L651.2 672.6L653.4 667.0L655.7 661.5L657.9 655.9L660.2 650.3L662.5 644.8L664.8 639.2L667.1 633.7L669.5 628.1L671.8 622.6L674.2 617.1L676.6 611.6L679.0 606.1L681.4 600.6L683.8 595.1L686.3 589.6L688.8 584.2L691.3 578.7L693.8 573.3L696.3 567.9L698.9 562.5L701.5 557.1L704.1 551.7L706.7 546.3L709.4 540.9L712.1 535.6L714.8 530.3L717.5 524.9L720.3 519.6L723.0 514.4L725.8 509.1L728.7 503.8L731.5 498.6L734.4 493.4L737.4 488.2L740.3 483.0L743.3 477.8L746.3 472.6L749.3 467.5L752.4 462.4L755.5 457.3L758.6 452.2L761.8 447.2L765.0 442.1L768.3 437.1L771.5 432.1L774.8 427.1L778.2 422.2L781.5 417.2L785.0 412.3L788.4 407.4L791.9 402.6L795.4 397.7L799.0 392.9L802.6 388.1L806.2 383.3L809.8 378.6L813.5 373.9L817.3 369.2L821.0 364.5L824.8 359.8L828.6 355.2L832.5 350.6L836.4 346.0L840.3 341.4L844.3 336.9L848.3 332.4L852.3 327.9L856.3 323.5L860.4 319.0L864.5 314.6L868.7 310.2L872.9 305.9L877.1 301.5L881.3 297.2L885.6 293.0L889.9 288.7L894.2 284.5L898.5 280.3L902.9 276.1L907.3 272.0L911.8 267.8L916.2 263.7L920.7 259.7L925.3 255.7L929.8 251.7L934.4 247.8L939.1 244.0L943.7 240.2L948.5 236.4L953.2 232.7L958.0 229.1L962.8 225.5L967.7 222.1L972.6 218.6L977.6 215.3L982.6 212.1L987.7 208.9L992.8 205.8L998.0 202.9L1003.2 200.0L1008.4 197.2L1013.7 194.5L1019.1 191.9L1024.5 189.5L1030.0 187.1L1035.5 184.8L1041.0 182.6L1046.6 180.6L1052.2 178.6L1057.9 176.7L1063.6 174.9L1069.3 173.3L1075.0 171.7L1080.8 170.2L1086.7 168.8L1092.5 167.5L1098.4 166.4L1104.3 165.3L1110.2 164.3L1116.1 163.4L1122.0 162.6L1128.0 161.9L1134.0 161.3L1140.0 160.9L1146.0 160.5L1152.0 160.1L1158.0 159.9L1164.0 159.8L1170.0 159.8L1176.0 159.9L1182.0 160.1L1188.0 160.3L1194.1 160.7L1200.1 161.2L1206.0 161.7L1212.0 162.4L1218.0 163.1L1224.0 164.0L1229.9 164.9L1235.8 165.9L1241.7 167.0L1247.6 168.3L1253.4 169.6L1259.3 171.0L1265.1 172.5L1270.9 174.0L1276.6 175.7L1282.3 177.5L1288.0 179.3L1293.7 181.3L1299.3 183.3L1304.9 185.4L1310.4 187.6L1316.0 189.9L1321.5 192.2L1326.9 194.6L1332.4 197.1L1337.8 199.7L1343.2 202.4L1348.5 205.1L1353.8 207.8L1359.1 210.7L1364.3 213.6L1369.6 216.6L1374.7 219.6L1379.9 222.7L1385.0 225.9L1390.1 229.1L1395.2 232.3L1400.2 235.7L1405.2 239.0L1410.2 242.4L1415.1 245.9L1420.0 249.4L1424.9 253.0L1429.7 256.6L1434.5 260.2L1439.3 263.9L1444.0 267.6L1448.7 271.3L1453.4 275.1L1458.1 278.9L1462.7 282.8L1467.3 286.6L1471.8 290.5L1476.3 294.5L1480.8 298.4L1485.3 302.4L1489.7 306.5L1494.1 310.5L1498.5 314.6L1502.8 318.7L1507.1 322.9L1511.4 327.0L1515.7 331.2L1519.9 335.5L1524.1 339.7L1528.3 344.0L1532.4 348.3L1536.5 352.6L1540.6 357.0L1544.7 361.4L1548.7 365.8L1552.7 370.2L1556.7 374.7L1560.7 379.1L1564.6 383.6L1568.5 388.2L1572.4 392.7L1576.2 397.3L1580.1 401.9L1583.9 406.5L1587.7 411.1L1591.5 415.7L1595.2 420.4L1598.9 425.1L1602.6 429.8L1606.3 434.5L1610.0 439.3L1613.6 444.1L1617.2 448.8L1620.8 453.6L1624.4 458.5L1628.0 463.3L1631.5 468.1L1635.0 473.0L1638.5 477.9L1642.0 482.8L1645.4 487.7L1648.9 492.6L1652.3 497.5L1655.7 502.5L1659.1 507.5L1662.5 512.4L1665.8 517.4L1669.2 522.4L1672.5 527.4L1675.8 532.5L1679.1 537.5L1682.4 542.5L1685.6 547.6L1688.9 552.7L1692.1 557.7L1695.3 562.8L1698.5 567.9L1701.7 573.0L1704.9 578.1L1708.1 583.2L1711.2 588.4L1714.4 593.5L1717.5 598.6L1720.6 603.8L1723.7 608.9L1726.8 614.1L1729.9 619.2L1733.0 624.4L1736.0 629.6L1739.1 634.7L1742.1 639.9L1745.2 645.1L1748.2 650.3L1751.2 655.4L1754.2 660.6L1757.2 665.8L1760.2 671.0L1763.2 676.2L1766.2 681.4L1769.1 686.6L1772.1 691.7L1775.0 696.9L1778.0 702.1L1780.9 707.3L1783.9 712.5L1786.8 717.6L1789.7 722.8L1792.6 728.0L1795.6 733.2L1798.5 738.3L1801.4 743.5L1804.3 748.6" stroke="#ff6600" stroke-width="11.0"/>
<path d="M473.5 1435.8L474.3 1429.9L475.2 1424.0L476.0 1418.0L476.9 1412.1L477.7 1406.2L478.6 1400.2L479.4 1394.3L480.2 1388.3L481.0 1382.4L481.8 1376.5L482.6 1370.5L483.4 1364.6L484.2 1358.6L485.0 1352.7L485.8 1346.7L486.6 1340.8L487.4 1334.9L488.2 1328.9L489.0 1323.0L489.7 1317.0L490.5 1311.1L491.3 1305.1L492.1 1299.2L492.9 1293.2L493.6 1287.3L494.4 1281.3L495.2 1275.4L496.0 1269.4L496.8 1263.5L497.6 1257.5L498.4 1251.6L499.2 1245.6L500.0 1239.7L500.8 1233.7L501.6 1227.8L502.4 1221.9L503.2 1215.9L504.0 1210.0L504.9 1204.0L505.7 1198.1L506.6 1192.2L507.4 1186.2L508.3 1180.3L509.2 1174.4L510.1 1168.4L511.0 1162.5L511.9 1156.6L512.8 1150.6L513.7 1144.7L514.6 1138.8L515.6 1132.9L516.5 1127.0L517.5 1121.0L518.5 1115.1L519.5 1109.2L520.5 1103.3L521.5 1097.4L522.6 1091.5L523.6 1085.6L524.7 1079.7L525.8 1073.8L526.9 1067.9L528.0 1062.0L529.1 1056.1L530.3 1050.2L531.4 1044.3L532.6 1038.5L533.8 1032.6L535.0 1026.7L536.3 1020.8L537.5 1015.0L538.8 1009.1L540.1 1003.3L541.4 997.4L542.7 991.5L544.0 985.7L545.4 979.9L546.8 974.0L548.1 968.2L549.5 962.3L551.0 956.5L552.4 950.7L553.8 944.8L555.3 939.0L556.8 933.2L558.3 927.4L559.8 921.6L561.3 915.8L562.8 910.0L564.4 904.2L565.9 898.4L567.5 892.6L569.1 886.8L570.7 881.0L572.3 875.2L574.0 869.4L575.6 863.7L577.3 857.9L579.0 852.1L580.7 846.4L582.4 840.6L584.1 834.8L585.8 829.1L587.5 823.3L589.3 817.6L591.1 811.9L592.8 806.1L594.6 800.4L596.4 794.7L598.2 788.9L600.1 783.2L601.9 777.5L603.7 771.8L605.6 766.1L607.5 760.4L609.4 754.7L611.2 749.0L613.1 743.3L615.1 737.6L617.0 732.0L618.9 726.3L620.9 720.6L622.8 714.9L624.8 709.3L626.8 703.6L628.8 698.0L630.8 692.3L632.8 686.7L634.9 681.1L636.9 675.4L639.0 669.8L641.1 664.2L643.2 658.6L645.3 653.0L647.4 647.4L649.6 641.8L651.7 636.2L653.9 630.7L656.1 625.1L658.3 619.5L660.5 614.0L662.8 608.4L665.0 602.9L667.3 597.4L669.6 591.8L671.9 586.3L674.2 580.8L676.6 575.3L678.9 569.8L681.3 564.3L683.7 558.9L686.1 553.4L688.6 548.0L691.0 542.5L693.5 537.1L696.0 531.6L698.5 526.2L701.1 520.8L703.7 515.4L706.2 510.0L708.9 504.7L711.5 499.3L714.1 493.9L716.8 488.6L719.5 483.3L722.2 477.9L725.0 472.6L727.7 467.3L730.5 462.0L733.3 456.7L736.2 451.5L739.0 446.2L741.9 441.0L744.8 435.7L747.8 430.5L750.7 425.3L753.7 420.1L756.7 414.9L759.8 409.7L762.8 404.6L765.9 399.4L769.0 394.3L772.2 389.1L775.4 384.0L778.6 378.9L781.8 373.9L785.0 368.8L788.3 363.7L791.6 358.7L795.0 353.7L798.4 348.6L801.8 343.7L805.2 338.7L808.6 333.7L812.1 328.8L815.7 323.9L819.2 319.0L822.8 314.1L826.4 309.3L830.0 304.5L833.7 299.7L837.4 294.9L841.2 290.1L845.0 285.4L848.8 280.8L852.6 276.1L856.5 271.5L860.4 266.9L864.3 262.3L868.3 257.8L872.3 253.3L876.4 248.8L880.4 244.4L884.6 240.0L888.7 235.7L892.9 231.4L897.1 227.1L901.4 222.9L905.7 218.7L910.0 214.6L914.4 210.5L918.8 206.4L923.3 202.4L927.7 198.4L932.3 194.5L936.8 190.6L941.4 186.8L946.1 183.0L950.8 179.3L955.5 175.6L960.3 172.0L965.1 168.5L969.9 164.9L974.8 161.5L979.7 158.1L984.7 154.7L989.7 151.4L994.7 148.2L999.8 145.0L1005.0 141.9L1010.2 138.9L1015.4 135.9L1020.6 132.9L1025.9 130.1L1031.3 127.3L1036.7 124.5L1042.1 121.9L1047.5 119.3L1053.0 116.7L1058.5 114.3L1064.1 111.9L1069.6 109.6L1075.2 107.3L1080.9 105.2L1086.5 103.1L1092.2 101.0L1097.9 99.1L1103.6 97.2L1109.4 95.5L1115.2 93.8L1120.9 92.1L1126.7 90.6L1132.6 89.1L1138.4 87.8L1144.3 86.5L1150.1 85.3L1156.0 84.2L1161.9 83.2L1167.8 82.3L1173.7 81.4L1179.6 80.7L1185.5 80.0L1191.4 79.5L1197.3 79.0L1203.3 78.7L1209.2 78.4L1215.1 78.2L1221.0 78.2L1227.0 78.2L1232.9 78.3L1238.8 78.6L1244.7 78.9L1250.6 79.3L1256.5 79.9L1262.3 80.6L1268.2 81.3L1274.1 82.2L1279.9 83.2L1285.7 84.3L1291.5 85.5L1297.3 86.8L1303.1 88.2L1308.9 89.7L1314.6 91.3L1320.3 92.9L1326.0 94.7L1331.7 96.6L1337.4 98.5L1343.0 100.6L1348.7 102.7L1354.3 104.9L1359.9 107.1L1365.4 109.5L1370.9 111.9L1376.5 114.4L1381.9 117.0L1387.4 119.6L1392.8 122.3L1398.2 125.1L1403.6 127.9L1409.0 130.8L1414.3 133.7L1419.6 136.7L1424.9 139.8L1430.1 142.9L1435.3 146.0L1440.5 149.2L1445.6 152.5L1450.7 155.7L1455.8 159.1L1460.8 162.4L1465.8 165.8L1470.8 169.2L1475.8 172.7L1480.7 176.2L1485.5 179.8L1490.4 183.3L1495.2 187.0L1500.0 190.6L1504.7 194.3L1509.4 198.0L1514.1 201.8L1518.8 205.6L1523.4 209.4L1528.0 213.2L1532.5 217.1L1537.1 221.1L1541.6 225.0L1546.0 229.0L1550.5 233.0L1554.9 237.1L1559.3 241.1L1563.6 245.2L1567.9 249.4L1572.2 253.5L1576.5 257.7L1580.7 261.9L1584.9 266.2L1589.1 270.5L1593.3 274.8L1597.4 279.1L1601.5 283.5L1605.6 287.8L1609.6 292.2L1613.7 296.7L1617.7 301.1L1621.6 305.6L1625.6 310.1L1629.5 314.6L1633.4 319.2L1637.3 323.8L1641.1 328.4L1644.9 333.0L1648.7 337.6L1652.5 342.3L1656.2 347.0L1660.0 351.7L1663.7 356.4L1667.3 361.1L1671.0 365.9L1674.6 370.7L1678.2 375.4L1681.8 380.3L1685.4 385.1L1688.9 389.9L1692.5 394.8L1696.0 399.7L1699.5 404.6L1702.9 409.5L1706.4 414.4L1709.8 419.4L1713.2 424.3L1716.5 429.3L1719.9 434.3L1723.2 439.3L1726.6 444.3L1729.9 449.3L1733.1 454.3L1736.4 459.4L1739.7 464.4L1742.9 469.5L1746.1 474.6L1749.3 479.7L1752.5 484.8L1755.6 489.9L1758.7 495.0L1761.9 500.1L1765.0 505.3L1768.1 510.4L1771.1 515.5L1774.2 520.7L1777.2 525.9L1780.3 531.0L1783.3 536.2L1786.3 541.4L1789.2 546.5L1792.2 551.7L1795.2 556.9L1798.1 562.1L1801.0 567.3L1803.9 572.5L1806.8 577.7L1809.7 582.9L1812.6 588.1" stroke="#00a8e8" stroke-width="11.5"/>
</g>
<g fill="#000000">
<circle cx="526.5" cy="1085.0" r="10.2"/><circle cx="540.0" cy="1025.5" r="10.2"/><circle cx="554.9" cy="1000.0" r="10.2"/><circle cx="572.9" cy="936.5" r="10.2"/><circle cx="596.2" cy="881.4" r="10.2"/><circle cx="613.2" cy="833.8" r="10.2"/><circle cx="666.1" cy="755.7" r="10.2"/><circle cx="725.8" cy="663.8" r="10.2"/><circle cx="797.7" cy="602.7" r="10.2"/><circle cx="859.0" cy="560.2" r="10.2"/><circle cx="952.9" cy="538.4" r="10.2"/><circle cx="1030.4" cy="547.9" r="10.2"/><circle cx="1104.8" cy="574.0" r="10.2"/><circle cx="1182.0" cy="624.7" r="10.2"/><circle cx="1320.3" cy="836.7" r="10.2"/><circle cx="1419.9" cy="1149.5" r="10.2"/><circle cx="1496.6" cy="1489.3" r="10.2"/>
</g>
<g fill="none" stroke-linecap="round" stroke-linejoin="round">
<path d="M555.2 1020.1L557.2 1014.4L559.2 1008.8L561.2 1003.2L563.2 997.5L565.3 991.9L567.4 986.3L569.5 980.7L571.7 975.1L573.8 969.5L576.0 963.9L578.2 958.3L580.5 952.8L582.8 947.2L585.1 941.7L587.4 936.2L589.8 930.7L592.2 925.2L594.6 919.7L597.0 914.2L599.5 908.8L602.1 903.4L604.6 898.0L607.2 892.6L609.9 887.2L612.5 881.9L615.3 876.5L618.0 871.2L620.8 866.0L623.6 860.7L626.5 855.5L629.4 850.3L632.4 845.1L635.4 839.9L638.5 834.8L641.6 829.7L644.7 824.6L647.9 819.6L651.1 814.6L654.4 809.6L657.7 804.6L661.0 799.6L664.4 794.7L667.8 789.8L671.3 784.9L674.8 780.1L678.3 775.3L681.9 770.4L685.5 765.7L689.2 760.9L692.9 756.1L696.6 751.4L700.4 746.7L704.2 742.0L708.0 737.4L711.9 732.8L715.8 728.2L719.8 723.6L723.8 719.1L727.8 714.7L731.9 710.2L736.1 705.9L740.3 701.6L744.5 697.3L748.8 693.1L753.2 689.0L757.6 684.9L762.1 681.0L766.6 677.1L771.2 673.2L775.9 669.5L780.6 665.8L785.4 662.2L790.3 658.8L795.2 655.4L800.2 652.1L805.3 648.9L810.4 645.8L815.6 642.9L820.9 640.0L826.2 637.3L831.6 634.7L837.0 632.2L842.5 629.8L848.1 627.6L853.7 625.5L859.3 623.6L865.1 621.8L870.8 620.2L876.6 618.7L882.4 617.3L888.3 616.1L894.2 615.1L900.1 614.2L906.0 613.5L912.0 612.9L917.9 612.5L923.9 612.2L929.9 612.2L935.8 612.2L941.8 612.5L947.7 612.9L953.7 613.5L959.6 614.2L965.5 615.1L971.3 616.1L977.2 617.3L983.0 618.7L988.7 620.2L994.5 621.8L1000.2 623.6L1005.9 625.5L1011.5 627.6L1017.1 629.7L1022.6 632.0L1028.1 634.5L1033.6 637.0L1039.0 639.6L1044.3 642.4L1049.6 645.2L1054.9 648.2L1060.1 651.2L1065.2 654.4L1070.3 657.6L1075.3 660.9L1080.2 664.3L1085.1 667.8L1090.0 671.4L1094.7 675.0L1099.4 678.7L1104.1 682.5L1108.6 686.4L1113.1 690.3L1117.6 694.3L1122.0 698.4L1126.3 702.5L1130.5 706.7L1134.7 711.0L1138.8 715.3L1142.9 719.6L1146.9 724.1L1150.8 728.6L1154.7 733.1L1158.5 737.7L1162.2 742.3L1165.9 747.0L1169.6 751.7L1173.1 756.5L1176.6 761.3L1180.1 766.2L1183.5 771.1L1186.9 776.1L1190.2 781.0L1193.4 786.0L1196.6 791.1L1199.8 796.2L1202.9 801.3L1206.0 806.4L1209.0 811.6L1212.0 816.8L1214.9 822.0L1217.8 827.3L1220.6 832.5L1223.5 837.8L1226.2 843.1L1229.0 848.4L1231.7 853.8L1234.4 859.1L1237.0 864.5L1239.6 869.9L1242.2 875.3L1244.8 880.7L1247.3 886.1L1249.8 891.5L1252.3 896.9L1254.8 902.4L1257.2 907.8L1259.6 913.3L1262.0 918.8L1264.4 924.2L1266.8 929.7L1269.1 935.2L1271.5 940.7L1273.8 946.3L1276.1 951.8L1278.4 957.3L1280.7 962.8L1283.0 968.4L1285.3 973.9L1287.6 979.4L1289.8 985.0L1292.1 990.5L1294.3 996.1L1296.6 1001.7L1298.8 1007.2L1301.1 1012.8L1303.3 1018.4L1305.5 1023.9L1307.7 1029.5L1309.8 1035.1L1312.0 1040.7L1314.2 1046.3L1316.3 1051.9L1318.4 1057.5L1320.5 1063.1L1322.6 1068.8L1324.7 1074.4L1326.8 1080.0L1328.8 1085.7L1330.8 1091.3L1332.8 1097.0L1334.8 1102.6L1336.8 1108.3L1338.7 1114.0L1340.6 1119.6L1342.5 1125.3L1344.4 1131.0L1346.2 1136.7L1348.1 1142.4L1349.9 1148.1L1351.6 1153.8L1353.4 1159.5L1355.1 1165.3L1356.8 1171.0L1358.5 1176.7L1360.1 1182.5L1361.7 1188.2L1363.3 1194.0L1364.8 1199.8L1366.3 1205.6L1367.8 1211.4L1369.3 1217.1L1370.7 1222.9L1372.0 1228.8L1373.4 1234.6L1374.7 1240.4L1376.0 1246.2L1377.2 1252.1L1378.4 1257.9L1379.6 1263.8L1380.7 1269.7L1381.8 1275.5L1382.8 1281.4L1383.9 1287.3L1384.8 1293.2L1385.7 1299.1L1386.6 1305.1L1387.5 1311.0L1388.3 1316.9L1389.0 1322.9L1389.7 1328.8L1390.4 1334.8L1391.1 1340.7L1391.7 1346.7L1392.3 1352.7L1392.9 1358.7L1393.4 1364.7L1394.0 1370.6L1394.5 1376.6L1395.0 1382.6L1395.4 1388.6L1395.9 1394.6L1396.4 1400.6L1396.8 1406.6L1397.2 1412.6L1397.7 1418.6L1398.1 1424.6L1398.6 1430.6L1399.0 1436.5L1399.4 1442.5L1399.9 1448.5L1400.4 1454.5L1400.8 1460.4L1401.3 1466.4L1401.8 1472.3L1402.4 1478.3L1402.9 1484.2L1403.5 1490.1L1404.1 1496.1L1404.7 1502.0L1405.3 1507.9" stroke="#cc4de0" stroke-width="11.0"/>
</g>
<g fill="#000000">
<circle cx="685.1" cy="828.0" r="10.2"/><circle cx="714.7" cy="808.8" r="10.2"/><circle cx="745.2" cy="773.1" r="10.2"/><circle cx="772.0" cy="759.0" r="10.2"/><circle cx="809.5" cy="743.1" r="10.2"/><circle cx="846.9" cy="742.2" r="10.2"/><circle cx="875.2" cy="735.9" r="10.2"/><circle cx="942.6" cy="757.6" r="10.2"/><circle cx="1005.1" cy="797.0" r="10.2"/><circle cx="1062.2" cy="858.5" r="10.2"/><circle cx="1102.5" cy="917.3" r="10.2"/><circle cx="1151.5" cy="1014.7" r="10.2"/><circle cx="1187.2" cy="1099.7" r="10.2"/><circle cx="1206.5" cy="1180.4" r="10.2"/><circle cx="1224.2" cy="1256.4" r="10.2"/><circle cx="1249.9" cy="1377.6" r="10.2"/><circle cx="1265.8" cy="1499.4" r="10.2"/><circle cx="1258.7" cy="1555.0" r="10.2"/>
</g>
<g fill="#ff0000">
<circle cx="607.9" cy="907.9" r="10.2"/><circle cx="631.7" cy="872.8" r="10.2"/><circle cx="656.9" cy="819.4" r="10.2"/><circle cx="685.6" cy="805.6" r="10.2"/><circle cx="715.2" cy="759.0" r="10.2"/><circle cx="755.3" cy="730.1" r="10.2"/><circle cx="782.4" cy="709.2" r="10.2"/><circle cx="853.0" cy="683.3" r="10.2"/><circle cx="920.6" cy="678.5" r="10.2"/><circle cx="992.7" cy="702.7" r="10.2"/><circle cx="1046.8" cy="736.6" r="10.2"/><circle cx="1119.7" cy="811.2" r="10.2"/><circle cx="1171.3" cy="890.9" r="10.2"/><circle cx="1215.0" cy="996.7" r="10.2"/><circle cx="1243.6" cy="1082.5" r="10.2"/><circle cx="1307.6" cy="1282.3" r="10.2"/><circle cx="1317.7" cy="1448.6" r="10.2"/><circle cx="1334.0" cy="1582.0" r="10.2"/>
</g>
<g fill="#cc4de0">
<circle cx="612.5" cy="892.5" r="10.2"/><circle cx="635.0" cy="832.4" r="10.2"/><circle cx="693.5" cy="748.3" r="10.2"/><circle cx="752.9" cy="683.4" r="10.2"/><circle cx="822.5" cy="627.0" r="10.2"/><circle cx="897.2" cy="611.0" r="10.2"/><circle cx="960.3" cy="609.8" r="10.2"/><circle cx="1049.9" cy="643.9" r="10.2"/><circle cx="1116.0" cy="692.2" r="10.2"/><circle cx="1177.6" cy="763.7" r="10.2"/><circle cx="1227.9" cy="849.0" r="10.2"/><circle cx="1328.8" cy="1070.6" r="10.2"/><circle cx="1385.2" cy="1303.5" r="10.2"/><circle cx="1402.6" cy="1504.7" r="10.2"/>
</g>
<g fill="#ff0080">
<circle cx="497.7" cy="1189.7" r="10.2"/><circle cx="505.1" cy="1136.6" r="10.2"/><circle cx="546.5" cy="1010.6" r="10.2"/><circle cx="559.2" cy="954.5" r="10.2"/><circle cx="602.1" cy="852.2" r="10.2"/><circle cx="643.2" cy="746.3" r="10.2"/><circle cx="704.7" cy="655.1" r="10.2"/><circle cx="760.0" cy="580.2" r="10.2"/><circle cx="849.3" cy="503.1" r="10.2"/><circle cx="928.9" cy="453.9" r="10.2"/><circle cx="1016.4" cy="448.6" r="10.2"/><circle cx="1098.6" cy="468.3" r="10.2"/><circle cx="1289.1" cy="603.4" r="10.2"/><circle cx="1468.3" cy="906.7" r="10.2"/><circle cx="1574.7" cy="1341.9" r="10.2"/>
</g>
<g fill="#00eeff">
<circle cx="471.5" cy="1307.2" r="10.2"/><circle cx="482.6" cy="1238.9" r="10.2"/><circle cx="498.5" cy="1159.5" r="10.2"/><circle cx="512.3" cy="1117.6" r="10.2"/><circle cx="519.4" cy="1070.7" r="10.2"/><circle cx="549.6" cy="975.6" r="10.2"/><circle cx="580.3" cy="862.3" r="10.2"/><circle cx="626.2" cy="750.6" r="10.2"/><circle cx="674.8" cy="658.7" r="10.2"/><circle cx="751.9" cy="538.7" r="10.2"/><circle cx="826.4" cy="456.5" r="10.2"/><circle cx="912.5" cy="395.5" r="10.2"/><circle cx="1002.7" cy="354.6" r="10.2"/><circle cx="1222.4" cy="388.6" r="10.2"/><circle cx="1471.2" cy="626.8" r="10.2"/><circle cx="1703.9" cy="1197.6" r="10.2"/>
</g>
<g fill="#008400">
<circle cx="463.5" cy="1378.7" r="10.2"/><circle cx="469.9" cy="1326.3" r="10.2"/><circle cx="486.5" cy="1250.0" r="10.2"/><circle cx="497.7" cy="1177.0" r="10.2"/><circle cx="514.6" cy="1100.0" r="10.2"/><circle cx="536.9" cy="986.2" r="10.2"/><circle cx="573.2" cy="878.1" r="10.2"/><circle cx="601.9" cy="776.0" r="10.2"/><circle cx="665.2" cy="631.8" r="10.2"/><circle cx="727.2" cy="514.3" r="10.2"/><circle cx="805.9" cy="408.3" r="10.2"/><circle cx="888.4" cy="315.0" r="10.2"/><circle cx="1130.2" cy="218.7" r="10.2"/><circle cx="1445.0" cy="356.2" r="10.2"/><circle cx="1729.5" cy="926.6" r="10.2"/>
</g>
<g fill="#ff6600">
<circle cx="469.1" cy="1407.3" r="10.2"/><circle cx="474.6" cy="1354.9" r="10.2"/><circle cx="482.6" cy="1292.9" r="10.2"/><circle cx="486.5" cy="1262.8" r="10.2"/><circle cx="491.3" cy="1224.6" r="10.2"/><circle cx="504.8" cy="1151.6" r="10.2"/><circle cx="521.8" cy="1049.3" r="10.2"/><circle cx="547.5" cy="944.9" r="10.2"/><circle cx="574.0" cy="839.0" r="10.2"/><circle cx="629.4" cy="697.6" r="10.2"/><circle cx="682.7" cy="565.1" r="10.2"/><circle cx="758.7" cy="439.9" r="10.2"/><circle cx="836.2" cy="337.2" r="10.2"/><circle cx="1075.4" cy="167.6" r="10.2"/><circle cx="1419.9" cy="240.0" r="10.2"/><circle cx="1801.3" cy="745.4" r="10.2"/>
</g>
<g fill="#00a8e8">
<circle cx="471.5" cy="1432.7" r="10.2"/><circle cx="472.3" cy="1424.0" r="10.2"/><circle cx="474.3" cy="1389.5" r="10.2"/><circle cx="476.0" cy="1374.0" r="10.2"/><circle cx="479.4" cy="1332.6" r="10.2"/><circle cx="484.2" cy="1307.2" r="10.2"/><circle cx="486.5" cy="1275.5" r="10.2"/><circle cx="496.9" cy="1208.8" r="10.2"/><circle cx="510.7" cy="1106.5" r="10.2"/><circle cx="532.1" cy="1004.8" r="10.2"/><circle cx="553.9" cy="904.7" r="10.2"/><circle cx="602.0" cy="761.3" r="10.2"/><circle cx="643.2" cy="628.8" r="10.2"/><circle cx="709.6" cy="490.3" r="10.2"/><circle cx="786.6" cy="358.6" r="10.2"/><circle cx="1014.3" cy="131.6" r="10.2"/><circle cx="1361.8" cy="104.2" r="10.2"/><circle cx="1809.6" cy="584.9" r="10.2"/>
</g>
<g stroke="#000" fill="none" stroke-linecap="butt">
<rect x="392.3" y="68.2" width="1569.7" height="1568.6" stroke-width="8.8"/>
<path d="M392.3 1636.8V1667.7M470.8 1636.8V1654.7M549.3 1636.8V1654.7M627.8 1636.8V1654.7M706.2 1636.8V1654.7M784.7 1636.8V1667.7M863.2 1636.8V1654.7M941.7 1636.8V1654.7M1020.2 1636.8V1654.7M1098.7 1636.8V1654.7M1177.2 1636.8V1667.7M1255.6 1636.8V1654.7M1334.1 1636.8V1654.7M1412.6 1636.8V1654.7M1491.1 1636.8V1654.7M1569.6 1636.8V1667.7M1648.1 1636.8V1654.7M1726.5 1636.8V1654.7M1805.0 1636.8V1654.7M1883.5 1636.8V1654.7M1962.0 1636.8V1667.7M392.3 1636.8H361.4M392.3 1587.8H374.4M392.3 1538.8H374.4M392.3 1489.7H374.4M392.3 1440.7H361.4M392.3 1391.7H374.4M392.3 1342.7H374.4M392.3 1293.7H374.4M392.3 1244.7H361.4M392.3 1195.6H374.4M392.3 1146.6H374.4M392.3 1097.6H374.4M392.3 1048.6H361.4M392.3 999.6H374.4M392.3 950.5H374.4M392.3 901.5H374.4M392.3 852.5H361.4M392.3 803.5H374.4M392.3 754.5H374.4M392.3 705.4H374.4M392.3 656.4H361.4M392.3 607.4H374.4M392.3 558.4H374.4M392.3 509.4H374.4M392.3 460.4H361.4M392.3 411.3H374.4M392.3 362.3H374.4M392.3 313.3H374.4M392.3 264.3H361.4M392.3 215.3H374.4M392.3 166.2H374.4M392.3 117.2H374.4M392.3 68.2H361.4" stroke-width="8.2"/>
</g>
<g font-size="80">
<text x="387.8" y="1737.5" text-anchor="middle">0</text>
<text x="780.2" y="1737.5" text-anchor="middle">0.1</text>
<text x="1172.7" y="1737.5" text-anchor="middle">0.2</text>
<text x="1565.1" y="1737.5" text-anchor="middle">0.3</text>
<text x="1957.5" y="1737.5" text-anchor="middle">0.4</text>
<text x="349" y="1650.3" text-anchor="end">0</text>
<text x="349" y="1454.2" text-anchor="end">0.02</text>
<text x="349" y="1258.2" text-anchor="end">0.04</text>
<text x="349" y="1062.1" text-anchor="end">0.06</text>
<text x="349" y="866.0" text-anchor="end">0.08</text>
<text x="349" y="669.9" text-anchor="end">0.1</text>
<text x="349" y="473.9" text-anchor="end">0.12</text>
<text x="349" y="277.8" text-anchor="end">0.14</text>
<text x="349" y="81.7" text-anchor="end">0.16</text>
</g>
<text x="410" y="164.5" font-size="79"><tspan class="it">H</tspan> = 2500 G</text>
<path d="M727.8 1051.0H884.4" stroke="#000000" stroke-width="9.3" fill="none"/>
<circle cx="803.2" cy="1047.9" r="9.8" fill="#000000"/>
<text x="893.3" y="1065.8" font-size="53" style="fill:#000000">7</text>
<path d="M727.8 1107.6H884.4" stroke="#ff0000" stroke-width="9.3" fill="none"/>
<circle cx="803.2" cy="1104.5" r="9.8" fill="#ff0000"/>
<text x="893.3" y="1122.4" font-size="53" style="fill:#ff0000">6.5</text>
<path d="M727.8 1164.1H884.4" stroke="#cc4de0" stroke-width="9.3" fill="none"/>
<circle cx="803.2" cy="1161.0" r="9.8" fill="#cc4de0"/>
<text x="893.3" y="1178.9" font-size="53" style="fill:#cc4de0">6</text>
<path d="M727.8 1220.7H884.4" stroke="#000000" stroke-width="9.3" fill="none"/>
<circle cx="803.2" cy="1217.6" r="9.8" fill="#000000"/>
<text x="893.3" y="1235.5" font-size="53" style="fill:#000000">5.5</text>
<path d="M727.8 1277.2H884.4" stroke="#ff0080" stroke-width="9.3" fill="none"/>
<circle cx="803.2" cy="1274.1" r="9.8" fill="#ff0080"/>
<text x="893.3" y="1292.0" font-size="53" style="fill:#ff0080">5</text>
<path d="M727.8 1333.8H884.4" stroke="#00eeff" stroke-width="9.3" fill="none"/>
<circle cx="803.2" cy="1330.7" r="9.8" fill="#00eeff"/>
<text x="893.3" y="1348.6" font-size="53" style="fill:#00eeff">4.5</text>
<path d="M727.8 1390.4H884.4" stroke="#008400" stroke-width="9.3" fill="none"/>
<circle cx="803.2" cy="1387.3" r="9.8" fill="#008400"/>
<text x="893.3" y="1405.2" font-size="53" style="fill:#008400">4</text>
<path d="M727.8 1446.9H884.4" stroke="#ff6600" stroke-width="9.3" fill="none"/>
<circle cx="803.2" cy="1443.8" r="9.8" fill="#ff6600"/>
<text x="893.3" y="1461.7" font-size="53" style="fill:#ff6600">3.75</text>
<path d="M727.8 1503.5H884.4" stroke="#00a8e8" stroke-width="9.3" fill="none"/>
<circle cx="803.2" cy="1500.4" r="9.8" fill="#00a8e8"/>
<text x="893.3" y="1518.3" font-size="53" style="fill:#00a8e8">3.5</text>
<g font-size="80" transform="translate(925.3 1887)">
<text class="it" x="4.6" y="3" font-size="74">χ</text><text class="it" x="44.2" y="45.5" font-size="56">M</text><text class="it" x="88.7" y="0">'</text><text x="124.7" y="0">/</text><text x="167.2" y="0">cm</text><text x="274.2" y="-44.4" font-size="54">3</text><text x="321.7" y="0">mol</text><text x="450.7" y="-44.4" font-size="54">-1</text>
</g>
<g font-size="80" transform="translate(95.4 1087.4) rotate(-90)">
<text class="it" x="4.6" y="3" font-size="74">χ</text><text class="it" x="42.5" y="45.5" font-size="56">M</text><text class="it" x="88.3" y="0">"</text><text x="136.4" y="0">/</text><text x="179.5" y="0">cm</text><text x="284.5" y="-44.4" font-size="54">3</text><text x="334.0" y="0">mol</text><text x="461.0" y="-44.4" font-size="54">-1</text>
</g>
</svg></body></html>
